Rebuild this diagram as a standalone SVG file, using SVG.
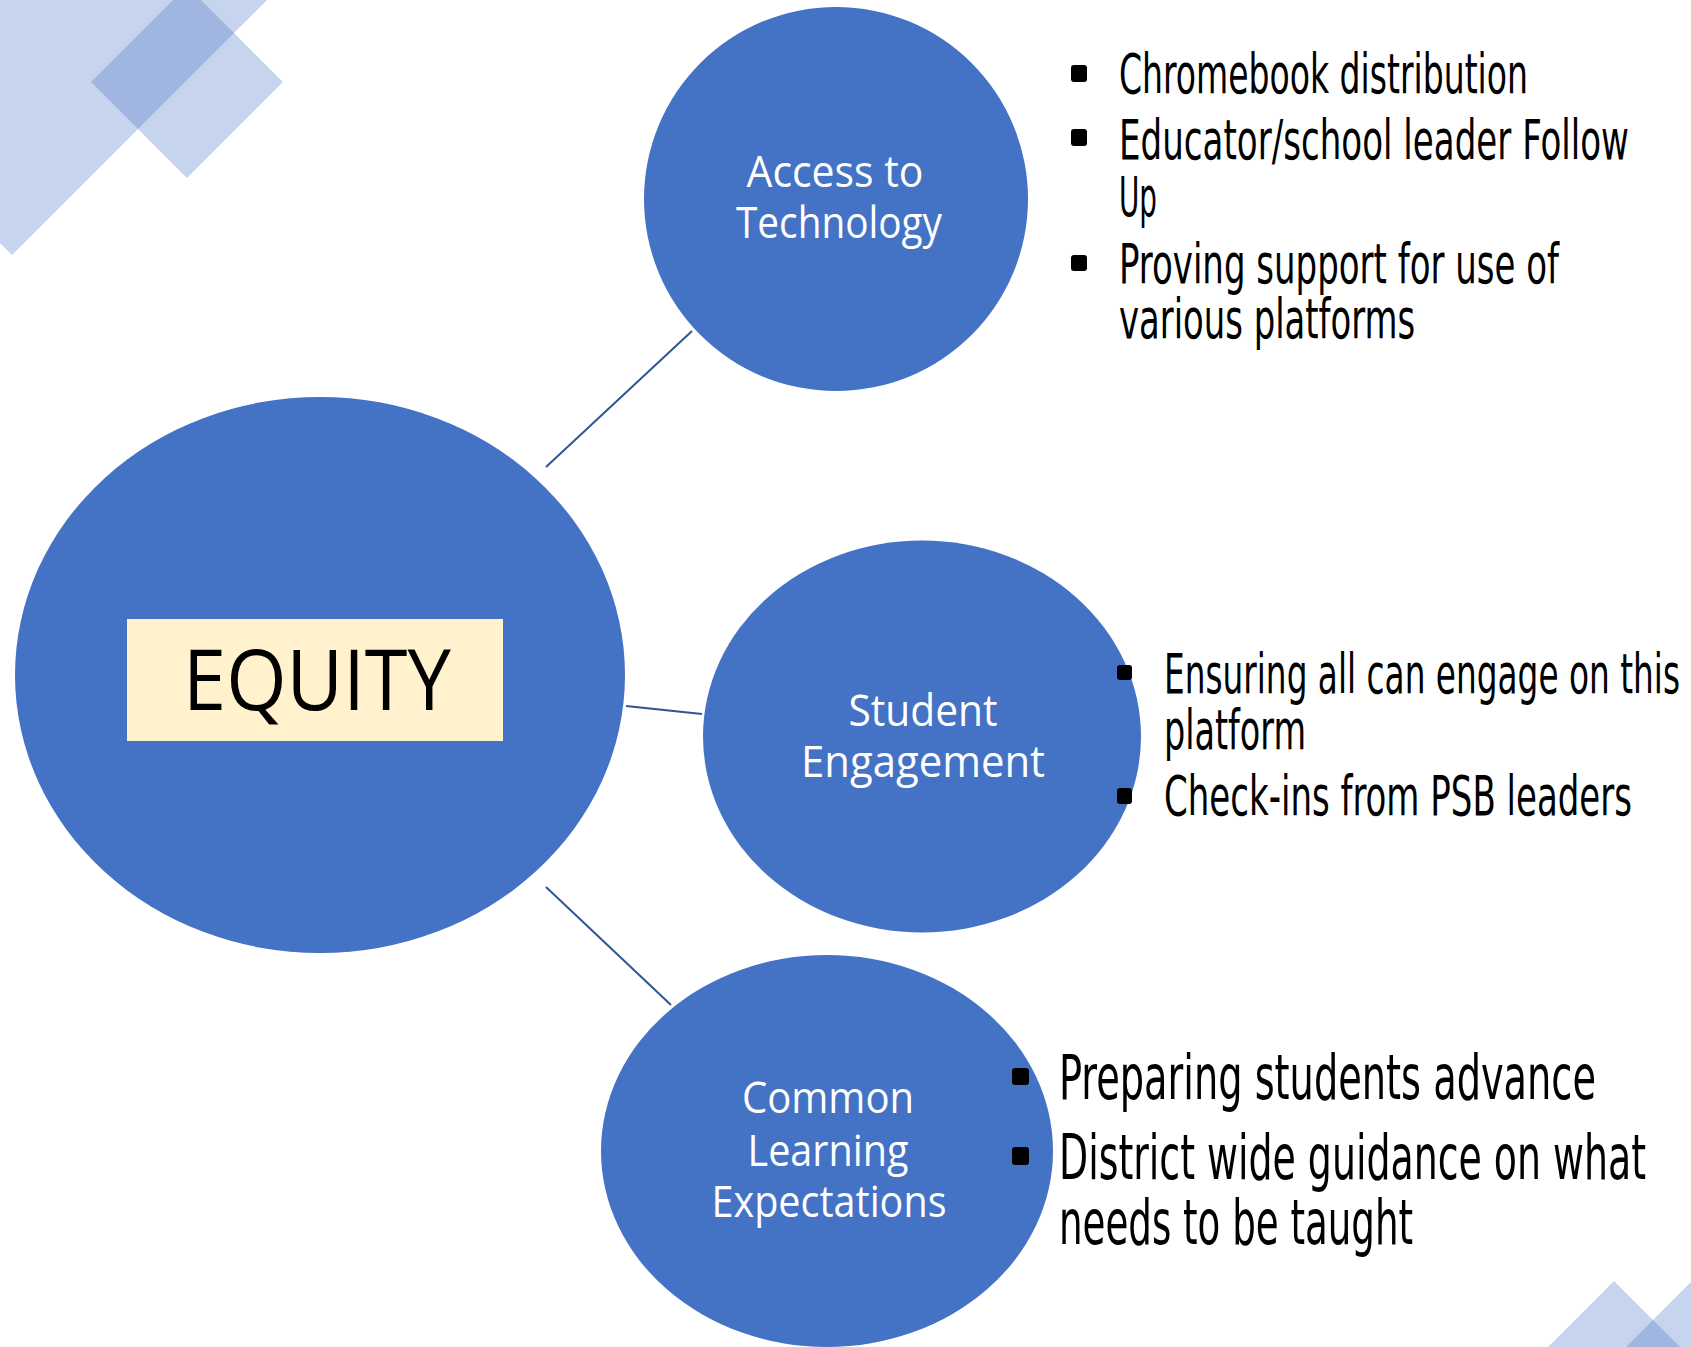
<svg xmlns="http://www.w3.org/2000/svg" width="1691" height="1347" viewBox="0 0 1691 1347">
<style>
.deco{fill:#4472C4;fill-opacity:0.3}
.node{fill:#4472C4}
.lbl{font-family:"Open Sans","Lato","DejaVu Sans",sans-serif;fill:#FFFFFF;font-size:43px;text-anchor:middle}
.conn{stroke:#2F5597;stroke-width:2;fill:none}
.bt{font-family:"Liberation Sans Narrow","DejaVu Sans Condensed","Liberation Sans",sans-serif;fill:#000000}
.b1{font-size:55px}
.b3{font-size:63px}
.bul{fill:#000000}
</style>
<rect x="0" y="0" width="1691" height="1347" fill="#FFFFFF"/>
<g id="decorations">
<polygon class="deco" points="0,0 267,0 12,255 0,243"/>
<polygon class="deco" points="187,-14 283,82 187,178 91,82"/>
<polygon class="deco" points="1614,1281 1680,1347 1548,1347"/>
<polygon class="deco" points="1626,1347 1691,1282 1691,1347"/>
</g>
<g id="connectors">
<line class="conn" x1="546" y1="467" x2="692" y2="331"/>
<line class="conn" x1="626" y1="706" x2="702" y2="714"/>
<line class="conn" x1="546" y1="887" x2="671" y2="1005"/>
</g>
<g id="equity">
<ellipse class="node" cx="320" cy="675" rx="305" ry="278"/>
<rect x="127" y="619" width="376" height="122" fill="#FFF2CC"/>
<text x="317" y="710" font-family="'Open Sans','Lato',sans-serif" font-size="84" text-anchor="middle" fill="#000000" textLength="268" lengthAdjust="spacingAndGlyphs">EQUITY</text>
</g>
<g id="access">
<circle class="node" cx="836" cy="199" r="192"/>
<text class="lbl" x="835" y="187" textLength="177" lengthAdjust="spacingAndGlyphs">Access to</text>
<text class="lbl" x="839" y="238" textLength="206" lengthAdjust="spacingAndGlyphs">Technology</text>
</g>
<g id="engagement">
<ellipse class="node" cx="922" cy="736.5" rx="219" ry="196"/>
<text class="lbl" x="923" y="726" textLength="149" lengthAdjust="spacingAndGlyphs">Student</text>
<text class="lbl" x="923" y="776.5" textLength="244" lengthAdjust="spacingAndGlyphs">Engagement</text>
</g>
<g id="expectations">
<ellipse class="node" cx="827" cy="1151" rx="226" ry="196"/>
<text class="lbl" x="828" y="1113" textLength="172" lengthAdjust="spacingAndGlyphs">Common</text>
<text class="lbl" x="828" y="1166" textLength="161" lengthAdjust="spacingAndGlyphs">Learning</text>
<text class="lbl" x="829" y="1217" textLength="235" lengthAdjust="spacingAndGlyphs">Expectations</text>
</g>
<g id="access-bullets">
<rect class="bul" x="1071" y="65" width="16" height="17" rx="3"/>
<rect class="bul" x="1071" y="129" width="16" height="17" rx="3"/>
<rect class="bul" x="1071" y="255" width="16" height="16" rx="3"/>
<g transform="matrix(0.75 0 0 1 1119 0)">
<text class="bt b1" x="0" y="93" textLength="545.3" lengthAdjust="spacingAndGlyphs">Chromebook distribution</text>
<text class="bt b1" x="0" y="159" textLength="680" lengthAdjust="spacingAndGlyphs">Educator/school leader Follow</text>
<text class="bt b1" x="0" y="216.5" textLength="50.7" lengthAdjust="spacingAndGlyphs">Up</text>
<text class="bt b1" x="0" y="283" textLength="586.7" lengthAdjust="spacingAndGlyphs">Proving support for use of</text>
<text class="bt b1" x="0" y="338" textLength="394.7" lengthAdjust="spacingAndGlyphs">various platforms</text>
</g>
</g>
<g id="engagement-bullets">
<rect class="bul" x="1117" y="665" width="15" height="15" rx="3"/>
<rect class="bul" x="1117" y="788" width="15" height="16" rx="3"/>
<g transform="matrix(0.75 0 0 1 1164 0)">
<text class="bt b1" x="0" y="693" textLength="688" lengthAdjust="spacingAndGlyphs">Ensuring all can engage on this</text>
<text class="bt b1" x="0" y="749" textLength="189.3" lengthAdjust="spacingAndGlyphs">platform</text>
<text class="bt b1" x="0" y="815" textLength="624" lengthAdjust="spacingAndGlyphs">Check-ins from PSB leaders</text>
</g>
</g>
<g id="expectations-bullets">
<rect class="bul" x="1012" y="1068" width="17" height="17" rx="3"/>
<rect class="bul" x="1012" y="1147" width="17" height="18" rx="3"/>
<g transform="matrix(0.75 0 0 1 1059 0)">
<text class="bt b3" x="0" y="1099" textLength="716" lengthAdjust="spacingAndGlyphs">Preparing students advance</text>
<text class="bt b3" x="0" y="1179" textLength="782.7" lengthAdjust="spacingAndGlyphs">District wide guidance on what</text>
<text class="bt b3" x="0" y="1244" textLength="472" lengthAdjust="spacingAndGlyphs">needs to be taught</text>
</g>
</g>
</svg>
